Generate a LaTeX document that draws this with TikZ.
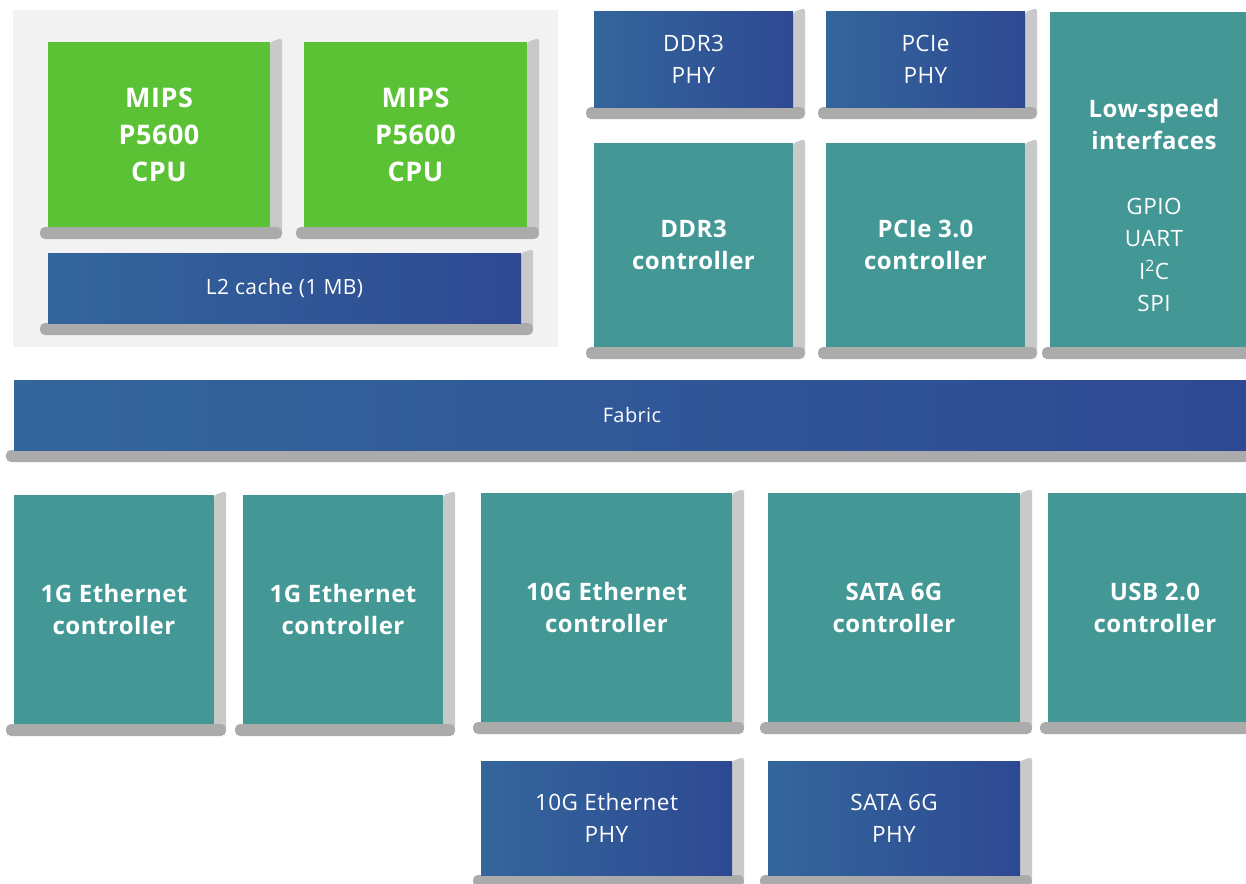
\documentclass[tikz,border=0pt]{standalone}
\usepackage{fontspec}
\setmainfont{Open Sans}[LetterSpace=2]
\definecolor{cpugreen}{HTML}{5BC236}
\definecolor{tealc}{HTML}{439896}
\definecolor{blueL}{HTML}{33669B}
\definecolor{blueR}{HTML}{2E4993}
\definecolor{panelc}{HTML}{F2F2F2}
\definecolor{shRc}{HTML}{C9C9C9}
\definecolor{shBc}{HTML}{ABABAB}
\tikzset{
  shR/.style={fill=shRc},
  shB/.style={fill=shBc},
  face/.style={inner sep=0pt, outer sep=0pt, text=white, align=center},
  cpubox/.style={face, fill=cpugreen, font=\fontsize{27}{37}\selectfont\bfseries},
  ctlbox/.style={face, fill=tealc, font=\fontsize{24}{32}\selectfont\bfseries},
  phybox/.style={face, shading=axis, left color=blueL, right color=blueR, font=\fontsize{22.5}{32}\selectfont},
  lbl/.style={text=white, align=center, inner sep=0pt}
}
\newcommand\blk[7]{%
  \fill[shR, rounded corners=3pt] (#5,#4) -- (#5+12,#4-4) -- (#5+12,#6+6) -- (#5,#6+6) -- cycle;
  \fill[shB, rounded corners=5pt] (#3-8,#6) rectangle (#5+12,#6+12);
  \node[#2, minimum width={(#5-#3)*1pt}, minimum height={(#6-#4)*1pt}, anchor=north west] (#1) at (#3,#4) {#7};
}
\begin{document}
\begin{tikzpicture}[x=1pt,y=-1pt]
\useasboundingbox (0,0) rectangle (1246,883);
\clip (0,0) rectangle (1246,883);
\fill[white] (0,0) rectangle (1246,883);
\node[fill=panelc, inner sep=0pt, minimum width=545pt, minimum height=337pt, anchor=north west] (panel) at (13,10) {};
\blk{cpu1}{cpubox}{48}{42}{270}{227}{MIPS\\P5600\\CPU}
\blk{cpu2}{cpubox}{304}{42}{527}{227}{MIPS\\P5600\\CPU}
\blk{l2}{phybox, font=\fontsize{21}{26}\selectfont}{48}{253}{521}{323}{L2 cache (1 MB)}
\blk{ddrphy}{phybox}{594}{12}{793}{107}{DDR3\\PHY}
\blk{pciephy}{phybox}{826}{12}{1025}{107}{PCIe\\PHY}
\blk{ddrc}{ctlbox}{594}{143}{793}{347}{DDR3\\controller}
\blk{pciec}{ctlbox}{826}{143}{1025}{347}{PCIe 3.0\\controller}
\blk{lsi}{ctlbox}{1050}{12}{1258}{347}{}
\node[lbl, font=\fontsize{24}{32}\selectfont\bfseries] (lsititle) at (1154,124) {Low-speed\\interfaces};
\node[lbl, font=\fontsize{22.5}{32.5}\selectfont] (lsilist) at (1154,255) {GPIO\\UART\\I\textsuperscript{2}C\\SPI};
\blk{fabric}{phybox, font=\fontsize{20}{28}\selectfont}{14}{380}{1250}{450}{Fabric}
\blk{eth1a}{ctlbox}{14}{495}{214}{724}{1G Ethernet\\controller}
\blk{eth1b}{ctlbox}{243}{495}{443}{724}{1G Ethernet\\controller}
\blk{eth10}{ctlbox}{481}{493}{732}{722}{10G Ethernet\\controller}
\blk{sata}{ctlbox}{768}{493}{1020}{722}{SATA 6G\\controller}
\blk{usb}{ctlbox}{1048}{493}{1262}{722}{USB 2.0\\controller}
\blk{eth10phy}{phybox}{481}{761}{732}{875}{10G Ethernet\\PHY}
\blk{sataphy}{phybox}{768}{761}{1020}{875}{SATA 6G\\PHY}
\end{tikzpicture}
\end{document}
